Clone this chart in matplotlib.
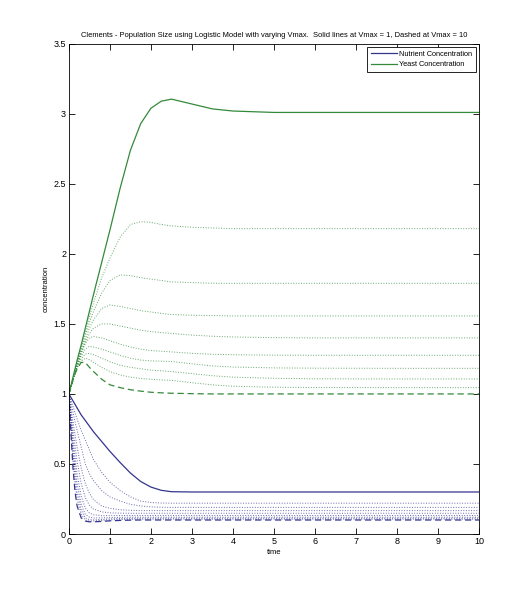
import numpy as np
from matplotlib import pyplot as plt

plt.rcParams['font.family'] = ['Liberation Sans', 'DejaVu Sans']

# time samples
time = [0, 0.05, 0.1, 0.15, 0.2, 0.3, 0.4, 0.5, 0.6, 0.8, 1.0, 1.25, 1.5, 1.75,
        2.0, 2.25, 2.5, 3.0, 3.5, 4.0, 5.0, 6.0, 8.0, 10.0]

# yeast concentration, Vmax = 1 .. 10
yeast1 = [1.0, 1.06, 1.12, 1.18, 1.24, 1.35, 1.47, 1.59, 1.71, 1.94, 2.17, 2.47, 2.74, 2.93,
          3.04, 3.09, 3.105, 3.07, 3.035, 3.02, 3.01, 3.01, 3.01, 3.01]
yeast2 = [1.0, 1.055, 1.11, 1.165, 1.22, 1.33, 1.44, 1.55, 1.65, 1.83, 1.97, 2.12, 2.21, 2.23,
          2.225, 2.21, 2.2, 2.19, 2.185, 2.18, 2.18, 2.18, 2.18, 2.18]
yeast3 = [1.0, 1.055, 1.11, 1.16, 1.215, 1.32, 1.42, 1.51, 1.59, 1.72, 1.81, 1.85, 1.845, 1.83,
          1.82, 1.81, 1.80, 1.795, 1.79, 1.79, 1.79, 1.79, 1.79, 1.79]
yeast4 = [1.0, 1.05, 1.105, 1.155, 1.205, 1.30, 1.39, 1.47, 1.53, 1.61, 1.635, 1.625, 1.61, 1.595,
          1.585, 1.575, 1.567, 1.562, 1.56, 1.557, 1.557, 1.557, 1.557, 1.557]
yeast5 = [1.0, 1.05, 1.10, 1.15, 1.20, 1.29, 1.37, 1.43, 1.47, 1.50, 1.50, 1.485, 1.47, 1.455,
          1.445, 1.438, 1.432, 1.42, 1.412, 1.407, 1.402, 1.40, 1.40, 1.40]
yeast6 = [1.0, 1.05, 1.10, 1.15, 1.20, 1.29, 1.36, 1.40, 1.41, 1.40, 1.38, 1.355, 1.335, 1.32,
          1.31, 1.305, 1.30, 1.29, 1.283, 1.28, 1.277, 1.276, 1.276, 1.276]
yeast7 = [1.0, 1.05, 1.10, 1.15, 1.195, 1.27, 1.32, 1.34, 1.335, 1.32, 1.30, 1.275, 1.255, 1.242,
          1.236, 1.234, 1.232, 1.215, 1.20, 1.192, 1.186, 1.184, 1.183, 1.183]
yeast8 = [1.0, 1.05, 1.10, 1.145, 1.19, 1.25, 1.285, 1.29, 1.28, 1.255, 1.23, 1.205, 1.19, 1.18,
          1.17, 1.165, 1.16, 1.145, 1.13, 1.12, 1.112, 1.108, 1.107, 1.107]
yeast9 = [1.0, 1.05, 1.10, 1.145, 1.185, 1.235, 1.255, 1.245, 1.225, 1.19, 1.16, 1.135, 1.12, 1.11,
          1.105, 1.10, 1.097, 1.08, 1.065, 1.055, 1.048, 1.046, 1.045, 1.045]
yeast10 = [1.0, 1.05, 1.10, 1.145, 1.18, 1.225, 1.225, 1.19, 1.16, 1.105, 1.065, 1.045, 1.03, 1.02,
           1.012, 1.008, 1.005, 1.002, 1.0, 1.0, 1.0, 1.0, 1.0, 1.0]

# nutrient concentration, Vmax = 1 .. 10
nutrient1 = [1.0, 0.975, 0.95, 0.925, 0.90, 0.85, 0.81, 0.77, 0.73, 0.66, 0.59, 0.51, 0.435, 0.375,
             0.335, 0.312, 0.302, 0.30, 0.30, 0.30, 0.30, 0.30, 0.30, 0.30]
nutrient2 = [1.0, 0.955, 0.91, 0.865, 0.82, 0.74, 0.67, 0.60, 0.53, 0.44, 0.37, 0.31, 0.265, 0.235,
             0.225, 0.221, 0.22, 0.22, 0.22, 0.22, 0.22, 0.22, 0.22, 0.22]
nutrient3 = [1.0, 0.935, 0.87, 0.80, 0.74, 0.62, 0.50, 0.43, 0.38, 0.31, 0.265, 0.235, 0.212, 0.20,
             0.194, 0.191, 0.19, 0.19, 0.19, 0.19, 0.19, 0.19, 0.19, 0.19]
nutrient4 = [1.0, 0.90, 0.80, 0.71, 0.62, 0.47, 0.36, 0.29, 0.245, 0.20, 0.183, 0.173, 0.169, 0.167,
             0.167, 0.167, 0.167, 0.167, 0.167, 0.167, 0.167, 0.167, 0.167, 0.167]
nutrient5 = [1.0, 0.87, 0.74, 0.63, 0.52, 0.36, 0.26, 0.205, 0.178, 0.158, 0.151, 0.149, 0.148, 0.148,
             0.148, 0.148, 0.148, 0.148, 0.148, 0.148, 0.148, 0.148, 0.148, 0.148]
nutrient6 = [1.0, 0.84, 0.68, 0.55, 0.43, 0.27, 0.185, 0.15, 0.137, 0.131, 0.131, 0.132, 0.132, 0.132,
             0.132, 0.132, 0.132, 0.132, 0.132, 0.132, 0.132, 0.132, 0.132, 0.132]
nutrient7 = [1.0, 0.81, 0.63, 0.48, 0.36, 0.21, 0.14, 0.12, 0.115, 0.115, 0.117, 0.119, 0.12, 0.12,
             0.12, 0.12, 0.12, 0.12, 0.12, 0.12, 0.12, 0.12, 0.12, 0.12]
nutrient8 = [1.0, 0.78, 0.58, 0.42, 0.30, 0.17, 0.115, 0.103, 0.101, 0.104, 0.108, 0.111, 0.112, 0.113,
             0.113, 0.113, 0.113, 0.113, 0.113, 0.113, 0.113, 0.113, 0.113, 0.113]
nutrient9 = [1.0, 0.75, 0.52, 0.36, 0.25, 0.14, 0.10, 0.093, 0.093, 0.097, 0.101, 0.104, 0.105, 0.106,
             0.106, 0.106, 0.106, 0.106, 0.106, 0.106, 0.106, 0.106, 0.106, 0.106]
nutrient10 = [1.0, 0.72, 0.47, 0.30, 0.20, 0.115, 0.092, 0.087, 0.087, 0.09, 0.094, 0.097, 0.099, 0.10,
              0.10, 0.10, 0.10, 0.10, 0.10, 0.10, 0.10, 0.10, 0.10, 0.10]

yeastDotted = [yeast2, yeast3, yeast4, yeast5, yeast6, yeast7, yeast8, yeast9]
nutrientDotted = [nutrient2, nutrient3, nutrient4, nutrient5, nutrient6, nutrient7, nutrient8, nutrient9]

blue = '#34348f'
green = '#338a3a'

fig = plt.figure(figsize=(5.3, 6.0), dpi=100)
ax = fig.add_axes([0.130, 0.110, 0.774, 0.817])

ax.plot(time, nutrient1, color=blue, lw=0.9, label='Nutrient Concentration')
ax.plot(time, yeast1, color=green, lw=0.9, label='Yeast Concentration')
for n in nutrientDotted:
    ax.plot(time, n, color=blue, lw=0.7, ls=':', alpha=0.75)
for y in yeastDotted:
    ax.plot(time, y, color=green, lw=0.7, ls=':', alpha=0.75)
ax.plot(time, nutrient10, color=blue, lw=0.9, ls=(0, (5, 3)))
ax.plot(time, yeast10, color=green, lw=0.9, ls=(0, (5, 3)))

ax.set_xlim(0, 10)
ax.set_ylim(0, 3.5)
ax.set_xticks(np.arange(0, 11, 1))
ax.set_yticks(np.arange(0, 3.6, 0.5))
ax.set_yticklabels(['0', '0.5', '1', '1.5', '2', '2.5', '3', '3.5'])
ax.tick_params(direction='in', top=True, right=True, labelsize=6.5, length=4, width=0.6, pad=2)
for s in ax.spines.values():
    s.set_linewidth(0.6)

ax.set_title('Clements - Population Size using Logistic Model with varying Vmax.  '
             'Solid lines at Vmax = 1, Dashed at Vmax = 10', fontsize=5.4, pad=5)
ax.set_xlabel('time', fontsize=5.5, labelpad=2)
ax.set_ylabel('concentration', fontsize=5.5, labelpad=3)

leg = ax.legend(loc='upper right', fontsize=5.3, fancybox=False, framealpha=1,
                edgecolor='black', borderpad=0.5, handlelength=3.6, handletextpad=0.3,
                labelspacing=0.5, borderaxespad=0.4)
leg.get_frame().set_linewidth(0.6)

fig.savefig('out.png', dpi=100)
